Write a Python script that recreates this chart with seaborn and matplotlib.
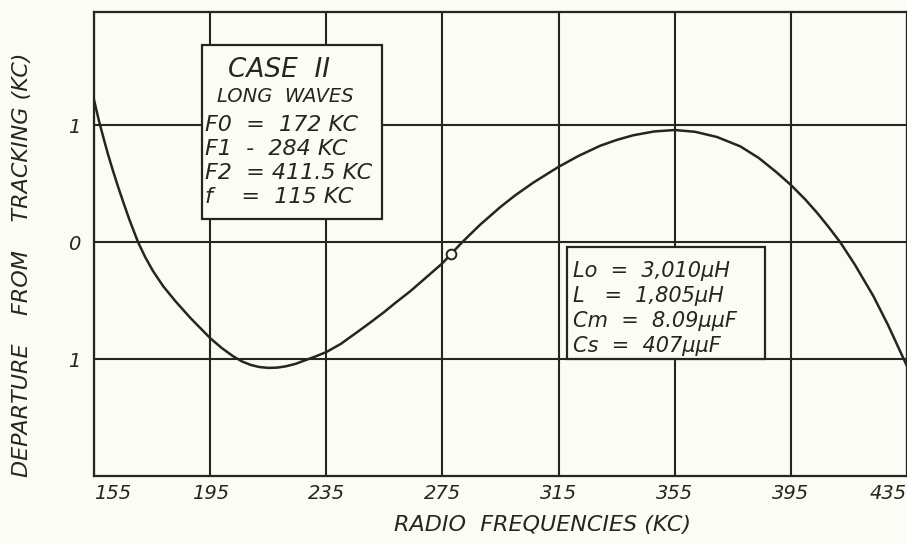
import pandas as pd
import matplotlib.pyplot as plt
import seaborn as sns
from matplotlib.patches import Rectangle

# values
freq_kc = [155, 156.7, 158.2, 159.8, 161.5, 163.3, 165.2, 167.1, 168.7, 170.2,
           172.6, 175.3, 178.8, 182.9, 188.1, 195, 199, 202.9, 206, 209, 212,
           215, 218, 221, 224.5, 227.7, 231, 235, 240, 245.6, 250, 254.8, 259,
           263.9, 269, 275, 278, 281.8, 288, 294.9, 300, 306.3, 315, 322,
           329.3, 335, 340.7, 348, 355, 362, 369.6, 377.6, 384, 390, 395, 400,
           404.1, 408, 412, 417, 423.4, 428.5, 433.7, 435]
departure_kc = [1.22, 1.04, 0.9, 0.755, 0.615, 0.475, 0.335, 0.2, 0.096, 0.0,
                -0.125, -0.245, -0.375, -0.5, -0.645, -0.82, -0.905, -0.975,
                -1.02, -1.05, -1.068, -1.075, -1.073, -1.062, -1.04, -1.01,
                -0.98, -0.94, -0.87, -0.77, -0.69, -0.60, -0.515, -0.42, -0.31,
                -0.18, -0.10, 0.0, 0.15, 0.30, 0.40, 0.51, 0.645, 0.74, 0.825,
                0.875, 0.915, 0.948, 0.96, 0.945, 0.90, 0.82, 0.72, 0.60, 0.49,
                0.365, 0.25, 0.13, 0.0, -0.19, -0.46, -0.71, -0.99, -1.06]
marker_point = (278, -0.10)

x_ticks = [155, 195, 235, 275, 315, 355, 395, 435]
y_ticks = [1, 0, -1]
y_tick_labels = ["1", "0", "1"]

case_lines = ["F0  =  172 KC", "F1  -  284 KC", "F2  = 411.5 KC", "f    =  115 KC"]
coil_lines = ["Lo  =  3,010\u03bcH", "L   =  1,805\u03bcH", "Cm  =  8.09\u03bc\u03bcF", "Cs  =  407\u03bc\u03bcF"]

df = pd.DataFrame({"freq": freq_kc, "dep": departure_kc})

ink = "#26261e"
paper = "#fcfcf7"

sns.set_theme(style="white")
plt.rcParams["font.family"] = ["DejaVu Sans"]

fig = plt.figure(figsize=(9.07, 5.44), dpi=100, facecolor=paper)
ax = fig.add_axes([0.1036, 0.125, 0.8964, 0.853])
ax.set_facecolor(paper)

sns.lineplot(data=df, x="freq", y="dep", color=ink, linewidth=1.8, ax=ax, zorder=3)
ax.plot(*marker_point, "o", markersize=7, markerfacecolor=paper,
        markeredgecolor=ink, markeredgewidth=1.4, zorder=4)

ax.set_xlim(155, 435)
ax.set_ylim(-2, 1.97)
ax.set_xticks(x_ticks)
ax.set_xticklabels([str(v) for v in x_ticks], fontsize=14, style="italic")
labels = ax.get_xticklabels()
labels[0].set_ha("left")
labels[-1].set_ha("right")
ax.set_yticks(y_ticks)
ax.set_yticklabels(y_tick_labels, fontsize=14, style="italic")
ax.tick_params(axis="x", length=0, pad=6, colors=ink)
ax.tick_params(axis="y", length=0, pad=10, colors=ink)
ax.set_xlabel("")
ax.set_ylabel("")

# grid: every 40 kc and every 1 kc
for xv in x_ticks:
    ax.axvline(xv, color=ink, linewidth=1.5, zorder=1)
for yv in [1.0, 0.0, -1.0]:
    ax.axhline(yv, color=ink, linewidth=1.5, zorder=1)
for s in ax.spines.values():
    s.set_color(ink)
    s.set_linewidth(1.6)

fig.text(542 / 907, 1 - 525 / 544, "RADIO  FREQUENCIES (KC)", fontsize=16,
         style="italic", color=ink, ha="center", va="center")
fig.text(22 / 907, 1 - 265 / 544, "DEPARTURE    FROM    TRACKING (KC)", fontsize=16,
         style="italic", color=ink, ha="center", va="center", rotation=90)

# case box
ax.add_patch(Rectangle((192.2, 0.20), 62.0, 1.49, facecolor=paper,
                       edgecolor=ink, linewidth=1.6, zorder=5))
ax.text(201.0, 1.47, "CASE  II", fontsize=19, style="italic", color=ink,
        va="center", zorder=6)
ax.text(197.2, 1.25, "LONG  WAVES", fontsize=14, style="italic", color=ink,
        va="center", zorder=6)
for i, line in enumerate(case_lines):
    ax.text(193.4, 1.0 - i * 0.205, line, fontsize=16, style="italic", color=ink,
            va="center", zorder=6)

# coil box
ax.add_patch(Rectangle((318.0, -1.0), 68.2, 0.96, facecolor=paper,
                       edgecolor=ink, linewidth=1.6, zorder=5))
for i, line in enumerate(coil_lines):
    ax.text(320.0, -0.248 - i * 0.213, line, fontsize=15, style="italic",
            color=ink, va="center", zorder=6)

fig.savefig("out.png", dpi=100, facecolor=paper)
